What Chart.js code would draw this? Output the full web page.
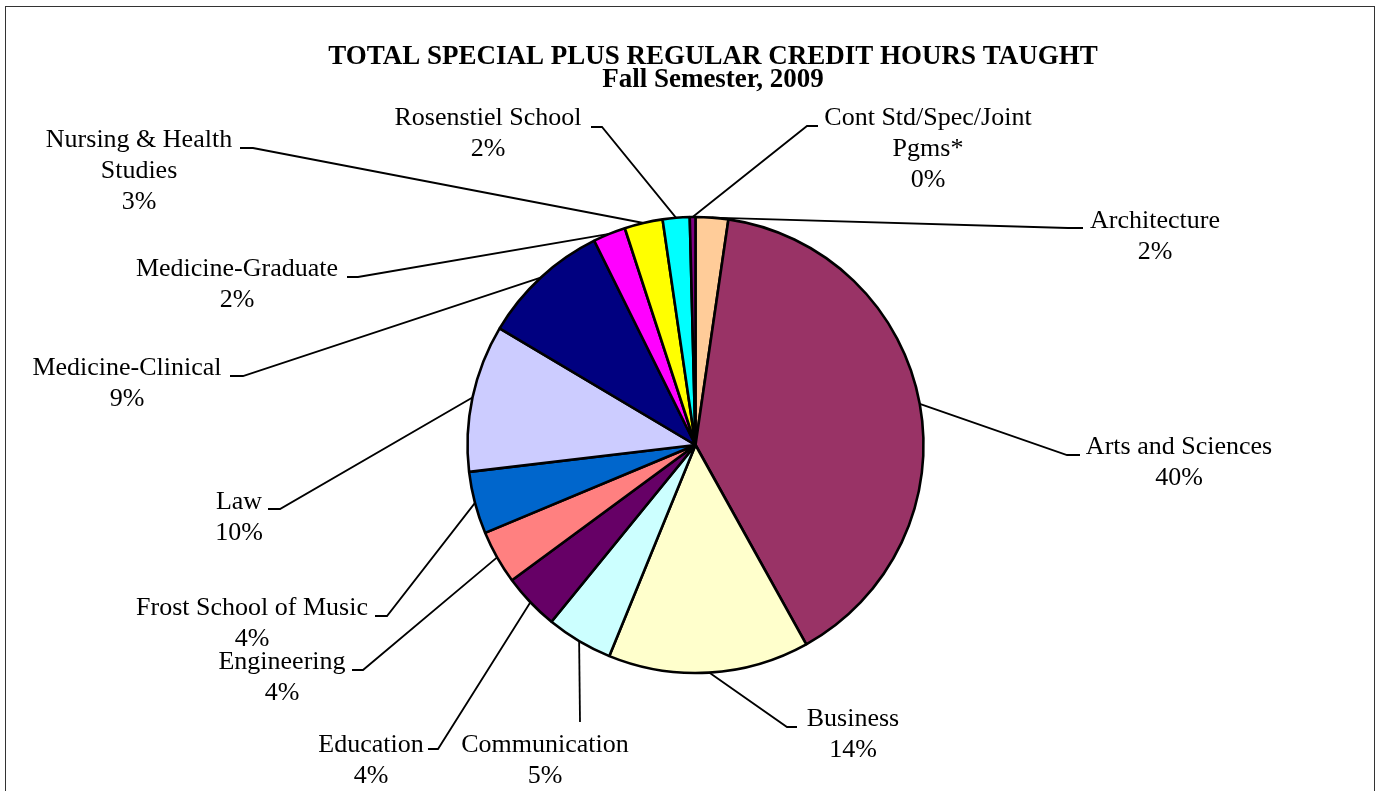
<!DOCTYPE html>
<html>
<head>
<meta charset="utf-8">
<title>Credit hours taught, Fall 2009</title>
<script src="https://cdn.jsdelivr.net/npm/chart.js@4.4.0/dist/chart.umd.min.js"></script>
<style>
  html, body { margin: 0; padding: 0; background: #fff; }
  #wrap { position: relative; width: 1379px; height: 791px; overflow: hidden; }
  #frame {
    position: absolute; left: 5px; top: 6px;
    width: 1368px; height: 830px;
    border: 1.5px solid #333;
  }
  #chart { position: absolute; left: 0; top: 0; }
</style>
</head>
<body>
<div id="wrap">
  <div id="frame"></div>
  <canvas id="chart" width="1379" height="791"></canvas>
</div>
<script>
const TITLE = ['TOTAL SPECIAL PLUS REGULAR CREDIT HOURS TAUGHT', 'Fall Semester, 2009'];

// schools, clockwise from 12 o'clock ('\n' = line break in the label)
const SCHOOLS = [
  'Architecture',
  'Arts and Sciences',
  'Business',
  'Communication',
  'Education',
  'Engineering',
  'Frost School of Music',
  'Law',
  'Medicine-Clinical',
  'Medicine-Graduate',
  'Nursing & Health\nStudies',
  'Rosenstiel School',
  'Cont Std/Spec/Joint\nPgms*',
];

// share of credit hours, %
const SHARE = [2.3, 39.5, 14.2, 4.7, 4.0, 3.8, 4.4, 10.4, 9.1, 2.3, 2.7, 1.9, 0.4];

const COLORS = [
  '#FFCC99', '#993366', '#FFFFCC', '#CCFFFF', '#660066', '#FF8080', '#0066CC',
  '#CCCCFF', '#000080', '#FF00FF', '#FFFF00', '#00FFFF', '#800080',
];

// label placement: text centre (x, y of first line), leader elbow (ex, ey), tick length
const LABEL_LAYOUT = [
  { x: 1155, y: 221, ex: 1068, ey: 228, tick: 15 },
  { x: 1179, y: 447, ex: 1067, ey: 455, tick: 13 },
  { x: 853,  y: 719, ex: 787,  ey: 727, tick: 10 },
  { x: 545,  y: 745, ex: 580,  ey: 722, tick: 0 },
  { x: 371,  y: 745, ex: 438,  ey: 749, tick: -10 },
  { x: 282,  y: 662, ex: 363,  ey: 670, tick: -11 },
  { x: 252,  y: 608, ex: 387,  ey: 616, tick: -12 },
  { x: 239,  y: 502, ex: 280,  ey: 509, tick: -12 },
  { x: 127,  y: 368, ex: 243,  ey: 376, tick: -13 },
  { x: 237,  y: 269, ex: 358,  ey: 277, tick: -11 },
  { x: 139,  y: 140, ex: 253,  ey: 148, tick: -13 },
  { x: 488,  y: 118, ex: 602,  ey: 127, tick: -11 },
  { x: 928,  y: 118, ex: 807,  ey: 126, tick: 11 },
];

const FONT = '"Liberation Serif", "Times New Roman", serif';
const LINE_H = 31;

const leaderLabels = {
  id: 'leaderLabels',
  afterDatasetsDraw(chart) {
    const { ctx } = chart;
    const meta = chart.getDatasetMeta(0);
    const values = chart.data.datasets[0].data;
    const total = values.reduce((a, b) => a + b, 0);

    ctx.save();
    ctx.strokeStyle = '#000';
    ctx.lineWidth = 1.8;
    meta.data.forEach((arc, i) => {
      const { x, y, startAngle, endAngle, outerRadius } =
        arc.getProps(['x', 'y', 'startAngle', 'endAngle', 'outerRadius'], true);
      const mid = (startAngle + endAngle) / 2;
      const px = x + Math.cos(mid) * outerRadius;
      const py = y + Math.sin(mid) * outerRadius;
      const lay = LABEL_LAYOUT[i];

      ctx.beginPath();
      ctx.moveTo(px, py);
      ctx.lineTo(lay.ex, lay.ey);
      if (lay.tick) ctx.lineTo(lay.ex + lay.tick, lay.ey);
      ctx.stroke();

      const pct = Math.round((values[i] / total) * 100) + '%';
      const lines = chart.data.labels[i].split('\n').concat(pct);
      ctx.fillStyle = '#000';
      ctx.font = '26px ' + FONT;
      ctx.textAlign = 'center';
      ctx.textBaseline = 'middle';
      lines.forEach((t, k) => ctx.fillText(t, lay.x, lay.y + k * LINE_H));
    });

    ctx.font = 'bold 27px ' + FONT;
    ctx.textAlign = 'center';
    ctx.textBaseline = 'middle';
    ctx.fillText(TITLE[0], 713, 57);
    ctx.fillText(TITLE[1], 713, 80);
    ctx.restore();
  },
};

new Chart(document.getElementById('chart'), {
  type: 'pie',
  data: {
    labels: SCHOOLS,
    datasets: [{
      data: SHARE,
      backgroundColor: COLORS,
      borderColor: '#000',
      borderWidth: 2.6,
    }],
  },
  options: {
    responsive: false,
    animation: false,
    radius: 228,
    layout: { padding: { left: 212, right: 200, top: 149, bottom: 50 } },
    plugins: {
      legend: { display: false },
      tooltip: { enabled: false },
      title: { display: false },
    },
  },
  plugins: [leaderLabels],
});
</script>
</body>
</html>
